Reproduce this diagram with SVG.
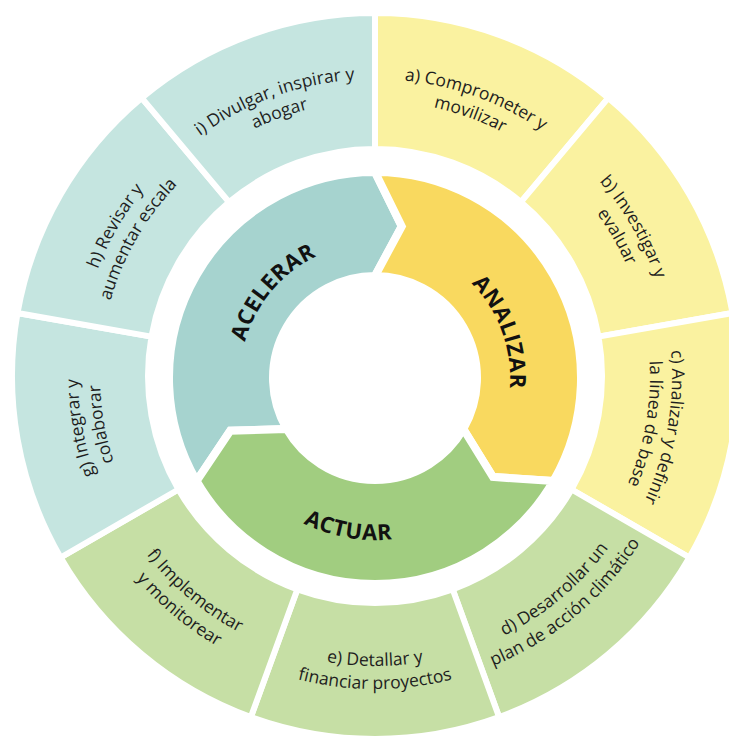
<svg xmlns="http://www.w3.org/2000/svg" xmlns:xlink="http://www.w3.org/1999/xlink" width="729" height="740" viewBox="0 0 729 740">
  <style>
    .seg { stroke: #ffffff; stroke-width: 6; stroke-linejoin: miter; }
    .arr { stroke: #ffffff; stroke-width: 8; stroke-linejoin: miter; }
    .teal-o { fill: #c5e5e0; }
    .yell-o { fill: #faf2a0; }
    .green-o { fill: #c6dfa5; }
    .teal-i { fill: #a6d3cf; }
    .yell-i { fill: #f9d95f; }
    .green-i { fill: #a1cd80; }
    .lbl { font-family: "Open Sans", "Noto Sans", sans-serif; font-size: 17.5px; fill: #1e1e1e; }
    .big { font-family: "Open Sans", "Noto Sans", sans-serif; font-size: 22px; font-weight: bold; letter-spacing: 0.6px; fill: #111111; }
  </style>
  <defs>
    <path id="top1" d="M227.51,-190.91 A297,297 0 0 1 227.51,190.91"/>
    <path id="top2" d="M210.66,-176.77 A275,275 0 0 1 210.66,176.77"/>
    <path id="bot1" d="M222.15,186.41 A290,290 0 0 0 222.15,-186.41"/>
    <path id="bot2" d="M239.77,201.20 A313,313 0 0 0 239.77,-201.20"/>
    <path id="topIn" d="M67.5,-116.91 A135,135 0 0 1 67.5,116.91"/>
    <path id="botIn" d="M81,140.30 A162,162 0 0 0 81,-140.30"/>
  </defs>
  <rect width="729" height="740" fill="#ffffff"/>
  <g id="outer-ring" transform="translate(375,376)">
    <g id="node-a">
      <path class="seg yell-o" d="M0,-363 A363,363 0 0 1 233.33,-278.07 L145.91,-173.89 A227,227 0 0 0 0,-227 Z"/>
      <g transform="rotate(-70)">
        <text class="lbl"><textPath xlink:href="#top1" href="#top1" startOffset="50%" text-anchor="middle">a) Comprometer y</textPath></text>
        <text class="lbl"><textPath xlink:href="#top2" href="#top2" startOffset="50%" text-anchor="middle">movilizar</textPath></text>
      </g>
    </g>
    <g id="node-b">
      <path class="seg yell-o" d="M233.33,-278.07 A363,363 0 0 1 357.49,-63.03 L223.55,-39.42 A227,227 0 0 0 145.91,-173.89 Z"/>
      <g transform="rotate(-30)">
        <text class="lbl"><textPath xlink:href="#top1" href="#top1" startOffset="50%" text-anchor="middle">b) Investigar y</textPath></text>
        <text class="lbl"><textPath xlink:href="#top2" href="#top2" startOffset="50%" text-anchor="middle">evaluar</textPath></text>
      </g>
    </g>
    <g id="node-c">
      <path class="seg yell-o" d="M357.49,-63.03 A363,363 0 0 1 314.37,181.5 L196.59,113.5 A227,227 0 0 0 223.55,-39.42 Z"/>
      <g transform="rotate(10)">
        <text class="lbl"><textPath xlink:href="#top1" href="#top1" startOffset="50%" text-anchor="middle">c) Analizar y definir</textPath></text>
        <text class="lbl"><textPath xlink:href="#top2" href="#top2" startOffset="50%" text-anchor="middle">la línea de base</textPath></text>
      </g>
    </g>
    <g id="node-d">
      <path class="seg green-o" d="M314.37,181.5 A363,363 0 0 1 124.15,341.11 L77.64,213.31 A227,227 0 0 0 196.59,113.5 Z"/>
      <g transform="rotate(50)">
        <text class="lbl"><textPath xlink:href="#bot1" href="#bot1" startOffset="50%" text-anchor="middle">d) Desarrollar un</textPath></text>
        <text class="lbl"><textPath xlink:href="#bot2" href="#bot2" startOffset="50%" text-anchor="middle">plan de acción climático</textPath></text>
      </g>
    </g>
    <g id="node-e">
      <path class="seg green-o" d="M124.15,341.11 A363,363 0 0 1 -124.15,341.11 L-77.64,213.31 A227,227 0 0 0 77.64,213.31 Z"/>
      <g transform="rotate(90)">
        <text class="lbl"><textPath xlink:href="#bot1" href="#bot1" startOffset="50%" text-anchor="middle">e) Detallar y</textPath></text>
        <text class="lbl"><textPath xlink:href="#bot2" href="#bot2" startOffset="50%" text-anchor="middle">financiar proyectos</textPath></text>
      </g>
    </g>
    <g id="node-f">
      <path class="seg green-o" d="M-124.15,341.11 A363,363 0 0 1 -314.37,181.5 L-196.59,113.5 A227,227 0 0 0 -77.64,213.31 Z"/>
      <g transform="rotate(130)">
        <text class="lbl"><textPath xlink:href="#bot1" href="#bot1" startOffset="50%" text-anchor="middle">f) Implementar</textPath></text>
        <text class="lbl"><textPath xlink:href="#bot2" href="#bot2" startOffset="50%" text-anchor="middle">y monitorear</textPath></text>
      </g>
    </g>
    <g id="node-g">
      <path class="seg teal-o" d="M-314.37,181.5 A363,363 0 0 1 -357.49,-63.03 L-223.55,-39.42 A227,227 0 0 0 -196.59,113.5 Z"/>
      <g transform="rotate(170)">
        <text class="lbl"><textPath xlink:href="#top1" href="#top1" startOffset="50%" text-anchor="middle">g) Integrar y</textPath></text>
        <text class="lbl"><textPath xlink:href="#top2" href="#top2" startOffset="50%" text-anchor="middle">colaborar</textPath></text>
      </g>
    </g>
    <g id="node-h">
      <path class="seg teal-o" d="M-357.49,-63.03 A363,363 0 0 1 -233.33,-278.07 L-145.91,-173.89 A227,227 0 0 0 -223.55,-39.42 Z"/>
      <g transform="rotate(210)">
        <text class="lbl"><textPath xlink:href="#top1" href="#top1" startOffset="50%" text-anchor="middle">h) Revisar y</textPath></text>
        <text class="lbl"><textPath xlink:href="#top2" href="#top2" startOffset="50%" text-anchor="middle">aumentar escala</textPath></text>
      </g>
    </g>
    <g id="node-i">
      <path class="seg teal-o" d="M-233.33,-278.07 A363,363 0 0 1 0,-363 L0,-227 A227,227 0 0 0 -145.91,-173.89 Z"/>
      <g transform="rotate(250)">
        <text class="lbl"><textPath xlink:href="#top1" href="#top1" startOffset="50%" text-anchor="middle">i) Divulgar, inspirar y</textPath></text>
        <text class="lbl"><textPath xlink:href="#top2" href="#top2" startOffset="50%" text-anchor="middle">abogar</textPath></text>
      </g>
    </g>
  </g>
  <g id="inner-ring" transform="translate(375,378)">
    <g id="node-acelerar">
      <path class="arr teal-i" d="M-178.40,103 A206,206 0 0 1 0,-206 L26.74,-151.66 L0,-102 A102,102 0 0 0 -88.33,51 L-144.71,52.67 Z"/>
      <g transform="rotate(220)">
        <text class="big"><textPath xlink:href="#topIn" href="#topIn" startOffset="50%" text-anchor="middle">ACELERAR</textPath></text>
      </g>
    </g>
    <g id="node-analizar">
      <path class="arr yell-i" d="M0,-206 A206,206 0 0 1 178.40,103 L117.97,98.99 L88.33,51 A102,102 0 0 0 0,-102 L26.74,-151.66 Z"/>
      <g transform="rotate(-20)">
        <text class="big"><textPath xlink:href="#topIn" href="#topIn" startOffset="50%" text-anchor="middle">ANALIZAR</textPath></text>
      </g>
    </g>
    <g id="node-actuar">
      <path class="arr green-i" d="M178.40,103 A206,206 0 0 1 -178.40,103 L-144.71,52.67 L-88.33,51 A102,102 0 0 0 88.33,51 L117.97,98.99 Z"/>
      <g transform="rotate(100)">
        <text class="big"><textPath xlink:href="#botIn" href="#botIn" startOffset="50%" text-anchor="middle">ACTUAR</textPath></text>
      </g>
    </g>
  </g>
</svg>
